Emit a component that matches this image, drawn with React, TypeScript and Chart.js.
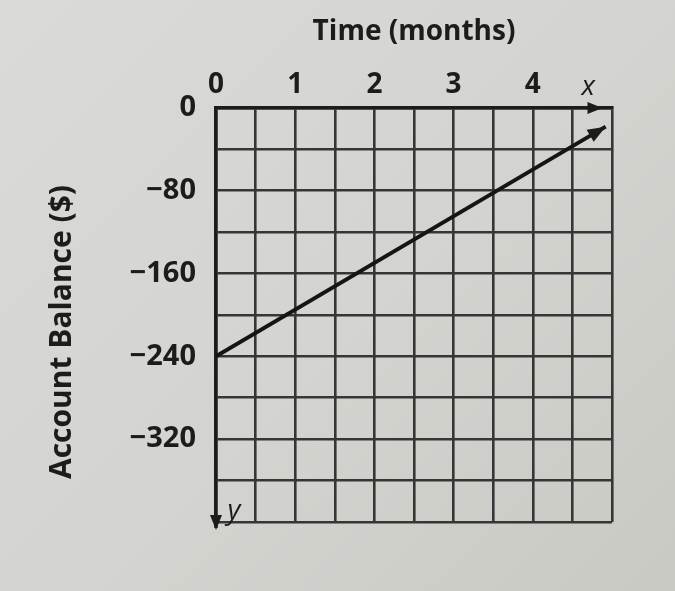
import React, { useEffect, useRef } from 'react';
import { Chart, registerables } from 'chart.js';

Chart.register(...registerables);

// ---- data ----
const months = [0, 4.92];
const balance = [-240, -18];
const xTickLabels = ['0', '1', '2', '3', '4'];
const yTickLabels = ['0', '\u221280', '\u2212160', '\u2212240', '\u2212320'];
const xTitle = 'Time (months)';
const yTitle = 'Account Balance ($)';
const axisVarLabels = ['x', 'y'];

const INK = '#1c1c1c';
const GRID = '#363636';
const FONT = '"Open Sans", "DejaVu Sans", sans-serif';

function arrowHead(ctx: CanvasRenderingContext2D, tx: number, ty: number, angle: number, len = 16, half = 6) {
  const dx = Math.cos(angle), dy = Math.sin(angle);
  const px = -dy, py = dx;
  ctx.beginPath();
  ctx.moveTo(tx, ty);
  ctx.lineTo(tx - len * dx + half * px, ty - len * dy + half * py);
  ctx.lineTo(tx - len * dx - half * px, ty - len * dy - half * py);
  ctx.closePath();
  ctx.fill();
}

const decorations = {
  id: 'decorations',
  afterDatasetsDraw(chart: any) {
    const { ctx, chartArea, scales } = chart;
    const { left, top, bottom } = chartArea;
    const x = scales.x;
    ctx.save();
    ctx.fillStyle = INK;
    ctx.strokeStyle = INK;
    // x-axis arrow
    arrowHead(ctx, x.getPixelForValue(4.88), top, 0, 15, 6);
    // y-axis extension + arrow
    ctx.lineWidth = 3.5;
    ctx.beginPath();
    ctx.moveTo(left, bottom);
    ctx.lineTo(left, bottom + 6);
    ctx.stroke();
    arrowHead(ctx, left, bottom + 8, Math.PI / 2, 15, 6);
    // line arrow
    const pts = chart.getDatasetMeta(0).data;
    const p1 = pts[pts.length - 2];
    const p2 = pts[pts.length - 1];
    const ang = Math.atan2(p2.y - p1.y, p2.x - p1.x);
    arrowHead(ctx, p2.x, p2.y, ang, 18, 7);
    // variable letters
    ctx.font = `italic 28px ${FONT}`;
    ctx.textAlign = 'center';
    ctx.textBaseline = 'middle';
    ctx.fillText(axisVarLabels[0], x.getPixelForValue(4.7), top - 21);
    ctx.fillText(axisVarLabels[1], left + 18, bottom - 11);
    // y-axis title (rotated)
    ctx.translate(62, 332);
    ctx.rotate(-Math.PI / 2);
    ctx.font = `bold 30px ${FONT}`;
    ctx.fillText(yTitle, 0, 0);
    ctx.restore();
  },
};

export default function App() {
  const ref = useRef<HTMLCanvasElement | null>(null);

  useEffect(() => {
    if (!ref.current) return;
    const chart = new Chart(ref.current, {
      type: 'scatter',
      data: {
        datasets: [
          {
            data: months.map((m, i) => ({ x: m, y: balance[i] })),
            showLine: true,
            borderColor: '#151515',
            borderWidth: 4,
            pointRadius: 0,
            fill: false,
          },
        ],
      },
      options: {
        animation: false,
        responsive: false,
        layout: { padding: { left: 0, top: 0, right: 63, bottom: 69 } },
        plugins: { legend: { display: false }, tooltip: { enabled: false } },
        scales: {
          x: {
            type: 'linear',
            position: 'top',
            min: 0,
            max: 5,
            ticks: {
              stepSize: 0.5,
              autoSkip: false,
              maxRotation: 0,
              padding: 6,
              color: INK,
              font: { family: FONT, size: 28, weight: 'bold' },
              callback: (v: any) => (Number.isInteger(v) && v <= 4 ? xTickLabels[v] : ''),
            },
            grid: { color: GRID, lineWidth: 2.6, drawTicks: false },
            border: { display: true, color: INK, width: 3.5 },
            title: {
              display: true,
              text: xTitle,
              color: INK,
              font: { family: FONT, size: 28, weight: 'bold' },
              padding: { top: 15, bottom: 0 },
            },
            afterFit: (s: any) => {
              s.height = 108;
            },
          },
          y: {
            type: 'linear',
            min: -400,
            max: 0,
            ticks: {
              stepSize: 40,
              autoSkip: false,
              padding: 20,
              color: INK,
              font: { family: FONT, size: 29, weight: 'bold' },
              callback: (v: any) => (v % 80 === 0 && v > -400 ? yTickLabels[Math.round(-v / 80)] : ''),
            },
            grid: { color: GRID, lineWidth: 2.6, drawTicks: false },
            border: { display: true, color: INK, width: 3.5 },
            title: { display: false },
            afterFit: (s: any) => {
              s.width = 216;
            },
          },
        },
      },
      plugins: [decorations],
    } as any);
    return () => chart.destroy();
  }, []);

  return (
    <div
      style={{
        position: 'absolute',
        left: 0,
        top: 0,
        width: 675,
        height: 591,
        background: 'linear-gradient(135deg, #dadad6 0%, #d3d3cf 55%, #c9c9c4 100%)',
      }}
    >
      <canvas ref={ref} width={675} height={591} style={{ display: 'block' }} />
    </div>
  );
}
